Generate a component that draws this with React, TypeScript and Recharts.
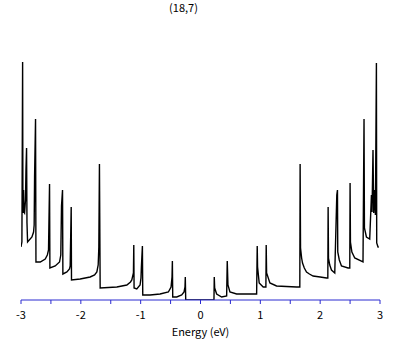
import { LineChart, Line, XAxis, YAxis } from 'recharts';

// (18,7) nanotube density of states
const energy = [
  -3.0, -2.985, -2.973, -2.968, -2.957, -2.95, -2.94, -2.925, -2.917, -2.907,
  -2.9, -2.89, -2.817, -2.79, -2.78, -2.773, -2.757, -2.75, -2.678, -2.595,
  -2.56, -2.54, -2.523, -2.517, -2.428, -2.356, -2.335, -2.323, -2.306, -2.3,
  -2.233, -2.19, -2.178, -2.161, -2.156, -2.011, -1.844, -1.77, -1.732, -1.71,
  -1.699, -1.689, -1.677, -1.398, -1.231, -1.17, -1.148, -1.121, -1.115, -1.11,
  -1.065, -1.01, -0.995, -0.988, -0.971, -0.965, -0.843, -0.676, -0.537, -0.492,
  -0.476, -0.47, -0.464, -0.397, -0.314, -0.275, -0.259, -0.254, -0.247, 0.225,
  0.23, 0.237, 0.27, 0.354, 0.437, 0.447, 0.459, 0.492, 0.604, 0.771,
  0.938, 0.948, 0.954, 0.981, 1.048, 1.093, 1.098, 1.105, 1.16, 1.271,
  1.605, 1.66, 1.665, 1.672, 1.69, 1.705, 1.735, 1.772, 1.82, 1.882,
  2.0, 2.106, 2.128, 2.133, 2.139, 2.16, 2.189, 2.244, 2.278, 2.289,
  2.294, 2.32, 2.356, 2.466, 2.495, 2.5, 2.506, 2.53, 2.578, 2.716,
  2.733, 2.74, 2.773, 2.828, 2.857, 2.867, 2.883, 2.895, 2.912, 2.923,
  2.94, 2.945, 2.967, 2.98,
];

const dos = [
  0.53, 0.58, 2.38, 0.87, 1.1, 0.88, 0.87, 1.0, 1.3, 1.52,
  0.77, 0.58, 0.63, 0.68, 0.75, 1.23, 1.81, 0.38, 0.38, 0.41,
  0.45, 0.5, 1.16, 0.32, 0.34, 0.38, 0.45, 0.94, 1.1, 0.26,
  0.28, 0.31, 0.34, 0.93, 0.2, 0.21, 0.23, 0.25, 0.28, 0.35,
  0.53, 1.36, 0.12, 0.13, 0.15, 0.18, 0.2, 0.27, 0.55, 0.12,
  0.11, 0.15, 0.22, 0.33, 0.54, 0.05, 0.05, 0.06, 0.08, 0.13,
  0.23, 0.39, 0.03, 0.03, 0.05, 0.08, 0.13, 0.23, 0, 0,
  0.23, 0.12, 0.06, 0.03, 0.04, 0.39, 0.15, 0.08, 0.06, 0.06,
  0.06, 0.54, 0.33, 0.17, 0.13, 0.13, 0.55, 0.27, 0.17, 0.14,
  0.13, 0.13, 1.36, 0.52, 0.42, 0.37, 0.32, 0.28, 0.26, 0.24,
  0.23, 0.22, 0.22, 0.93, 0.42, 0.35, 0.3, 0.27, 1.05, 1.1,
  0.48, 0.4, 0.34, 0.32, 0.32, 1.17, 0.58, 0.48, 0.42, 0.38,
  1.81, 0.72, 0.63, 0.61, 1.05, 0.88, 1.5, 0.87, 1.1, 0.85,
  2.37, 0.57, 0.53, 0.53,
];

const xTicks = [-3, -2.5, -2, -1.5, -1, -0.5, 0, 0.5, 1, 1.5, 2, 2.5, 3];

const data = energy.map((e, i) => ({ e, d: dos[i] }));

const axisBlue = '#2a2ad0';
const font = '"Noto Sans CJK JP", "DejaVu Sans", sans-serif';

export default function App() {
  return (
    <div style={{ position: 'absolute', left: 0, top: 0, width: 409, height: 345, background: '#fff' }}>
      <div
        style={{
          position: 'absolute',
          left: 0,
          width: 367,
          top: 1,
          textAlign: 'center',
          fontFamily: font,
          fontSize: 11,
          lineHeight: '13px',
          color: '#000',
        }}
      >
        (18,7)
      </div>
      <LineChart width={409} height={345} data={data} margin={{ top: 60, right: 29, bottom: 5, left: 21 }}>
        <XAxis
          dataKey="e"
          type="number"
          domain={[-3, 3]}
          ticks={xTicks}
          interval={0}
          allowDataOverflow
          stroke={axisBlue}
          tickSize={4}
          tickMargin={7}
          height={40}
          tick={{ fill: '#000', fontSize: 11, fontFamily: font }}
          tickFormatter={(v: number) => (Number.isInteger(v) ? String(v) : '')}
          label={{
            value: 'Energy (eV)',
            position: 'insideBottom',
            offset: 4,
            fill: '#000',
            fontSize: 11,
            fontFamily: font,
          }}
        />
        <YAxis hide type="number" domain={[0, 2.4]} allowDataOverflow />
        <Line
          type="linear"
          dataKey="d"
          stroke="#000"
          strokeWidth={1.4}
          dot={false}
          isAnimationActive={false}
        />
      </LineChart>
    </div>
  );
}
